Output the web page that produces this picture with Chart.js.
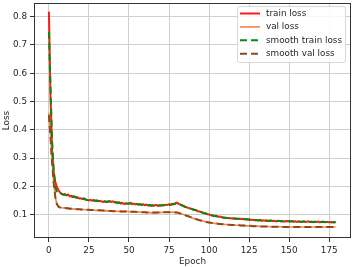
<!DOCTYPE html>
<html>
<head>
<meta charset="utf-8">
<script src="https://cdn.jsdelivr.net/npm/chart.js@4"></script>
<style>
  body { margin: 0; background: #fff; }
  canvas { display: block; }
</style>
</head>
<body>
<canvas id="lossChart" width="353" height="267"></canvas>
<script>
const xTicks = [0, 25, 50, 75, 100, 125, 150, 175];
const yTicks = [0.1, 0.2, 0.3, 0.4, 0.5, 0.6, 0.7, 0.8];

const trainLoss = [
    0.818, 0.520, 0.330, 0.250, 0.215, 0.198, 0.186, 0.178, 0.173, 0.170,
    0.172, 0.168, 0.171, 0.165, 0.166, 0.162, 0.164, 0.159, 0.161, 0.157,
    0.158, 0.155, 0.157, 0.153, 0.151, 0.150, 0.152, 0.149, 0.151, 0.148,
    0.150, 0.147, 0.149, 0.146, 0.145, 0.147, 0.144, 0.146, 0.148, 0.145,
    0.147, 0.143, 0.144, 0.141, 0.143, 0.139, 0.141, 0.137, 0.140, 0.138,
    0.139, 0.141, 0.137, 0.139, 0.136, 0.138, 0.135, 0.137, 0.134, 0.136,
    0.133, 0.135, 0.132, 0.134, 0.131, 0.133, 0.132, 0.134, 0.131, 0.133,
    0.132, 0.134, 0.133, 0.135, 0.134, 0.136, 0.135, 0.138, 0.137, 0.140,
    0.142, 0.138, 0.135, 0.133, 0.130, 0.127, 0.126, 0.123, 0.122, 0.120,
    0.118, 0.116, 0.115, 0.112, 0.111, 0.109, 0.107, 0.105, 0.104, 0.101,
    0.100, 0.098, 0.097, 0.095, 0.096, 0.094, 0.092, 0.093, 0.090, 0.089,
    0.088, 0.089, 0.087, 0.088, 0.086, 0.087, 0.085, 0.086, 0.084, 0.085,
    0.084, 0.085, 0.083, 0.084, 0.082, 0.083, 0.081, 0.082, 0.080, 0.081,
    0.080, 0.079, 0.081, 0.078, 0.080, 0.078, 0.079, 0.077, 0.079, 0.078,
    0.077, 0.078, 0.076, 0.078, 0.077, 0.076, 0.077, 0.075, 0.077, 0.076,
    0.076, 0.075, 0.077, 0.075, 0.076, 0.074, 0.076, 0.075, 0.074, 0.076,
    0.075, 0.074, 0.076, 0.074, 0.075, 0.073, 0.075, 0.074, 0.075, 0.073,
    0.074, 0.075, 0.073, 0.074, 0.074, 0.073, 0.074, 0.073, 0.074, 0.073
];

const valLoss = [
    0.460, 0.380, 0.290, 0.215, 0.160, 0.136, 0.128, 0.125, 0.124, 0.123,
    0.123, 0.122, 0.122, 0.121, 0.121, 0.120, 0.120, 0.119, 0.119, 0.119,
    0.118, 0.118, 0.118, 0.117, 0.117, 0.117, 0.116, 0.116, 0.116, 0.115,
    0.115, 0.115, 0.114, 0.115, 0.114, 0.113, 0.114, 0.113, 0.113, 0.113,
    0.112, 0.113, 0.112, 0.112, 0.111, 0.112, 0.111, 0.111, 0.112, 0.111,
    0.111, 0.110, 0.111, 0.110, 0.110, 0.109, 0.110, 0.109, 0.108, 0.109,
    0.108, 0.107, 0.108, 0.107, 0.106, 0.107, 0.106, 0.107, 0.107, 0.108,
    0.107, 0.108, 0.108, 0.109, 0.108, 0.109, 0.108, 0.109, 0.108, 0.108,
    0.107, 0.106, 0.104, 0.102, 0.100, 0.098, 0.096, 0.094, 0.092, 0.089,
    0.087, 0.085, 0.083, 0.082, 0.080, 0.079, 0.077, 0.076, 0.074, 0.073,
    0.072, 0.071, 0.070, 0.069, 0.068, 0.068, 0.067, 0.067, 0.066, 0.066,
    0.065, 0.065, 0.064, 0.064, 0.063, 0.063, 0.063, 0.062, 0.062, 0.062,
    0.061, 0.061, 0.061, 0.060, 0.060, 0.060, 0.060, 0.059, 0.059, 0.059,
    0.059, 0.059, 0.058, 0.058, 0.058, 0.058, 0.058, 0.058, 0.057, 0.057,
    0.057, 0.057, 0.057, 0.057, 0.057, 0.057, 0.056, 0.056, 0.056, 0.056,
    0.056, 0.056, 0.056, 0.057, 0.056, 0.056, 0.056, 0.056, 0.056, 0.056,
    0.056, 0.056, 0.056, 0.056, 0.056, 0.056, 0.056, 0.056, 0.056, 0.056,
    0.056, 0.056, 0.056, 0.056, 0.056, 0.056, 0.056, 0.056, 0.056, 0.056
];

const smoothTrainLoss = [
    0.747, 0.550, 0.360, 0.255, 0.200, 0.178, 0.176, 0.175, 0.173, 0.171,
    0.170, 0.169, 0.168, 0.166, 0.165, 0.164, 0.163, 0.161, 0.160, 0.158,
    0.157, 0.156, 0.155, 0.153, 0.152, 0.151, 0.151, 0.150, 0.150, 0.149,
    0.149, 0.148, 0.148, 0.147, 0.146, 0.146, 0.145, 0.146, 0.146, 0.145,
    0.145, 0.144, 0.143, 0.142, 0.142, 0.141, 0.140, 0.139, 0.139, 0.139,
    0.139, 0.139, 0.138, 0.138, 0.137, 0.137, 0.136, 0.136, 0.135, 0.135,
    0.134, 0.134, 0.133, 0.133, 0.132, 0.132, 0.132, 0.132, 0.132, 0.132,
    0.132, 0.133, 0.133, 0.134, 0.134, 0.135, 0.135, 0.136, 0.137, 0.138,
    0.139, 0.138, 0.136, 0.133, 0.131, 0.128, 0.126, 0.124, 0.122, 0.120,
    0.118, 0.116, 0.115, 0.113, 0.111, 0.109, 0.107, 0.105, 0.104, 0.102,
    0.100, 0.099, 0.097, 0.096, 0.095, 0.094, 0.093, 0.092, 0.091, 0.090,
    0.089, 0.088, 0.088, 0.087, 0.087, 0.086, 0.086, 0.085, 0.085, 0.085,
    0.084, 0.084, 0.084, 0.083, 0.083, 0.082, 0.082, 0.081, 0.081, 0.081,
    0.080, 0.080, 0.080, 0.079, 0.079, 0.079, 0.078, 0.078, 0.078, 0.078,
    0.077, 0.077, 0.077, 0.077, 0.077, 0.076, 0.076, 0.076, 0.076, 0.076,
    0.076, 0.076, 0.076, 0.075, 0.075, 0.075, 0.075, 0.075, 0.075, 0.075,
    0.075, 0.075, 0.075, 0.074, 0.074, 0.074, 0.074, 0.074, 0.074, 0.074,
    0.074, 0.074, 0.074, 0.074, 0.074, 0.074, 0.073, 0.073, 0.073, 0.073
];

const smoothValLoss = [
    0.452, 0.372, 0.285, 0.212, 0.162, 0.137, 0.128, 0.125, 0.124, 0.123,
    0.123, 0.122, 0.122, 0.121, 0.121, 0.120, 0.120, 0.119, 0.119, 0.119,
    0.118, 0.118, 0.118, 0.117, 0.117, 0.117, 0.116, 0.116, 0.116, 0.115,
    0.115, 0.115, 0.115, 0.114, 0.114, 0.114, 0.113, 0.113, 0.113, 0.113,
    0.112, 0.112, 0.112, 0.112, 0.112, 0.111, 0.111, 0.111, 0.111, 0.111,
    0.111, 0.110, 0.110, 0.110, 0.110, 0.109, 0.109, 0.109, 0.108, 0.108,
    0.108, 0.107, 0.107, 0.107, 0.107, 0.107, 0.107, 0.107, 0.107, 0.107,
    0.107, 0.108, 0.108, 0.108, 0.108, 0.108, 0.108, 0.108, 0.108, 0.107,
    0.107, 0.106, 0.104, 0.102, 0.100, 0.098, 0.096, 0.094, 0.092, 0.090,
    0.088, 0.086, 0.084, 0.082, 0.080, 0.079, 0.077, 0.076, 0.074, 0.073,
    0.072, 0.071, 0.070, 0.069, 0.068, 0.068, 0.067, 0.067, 0.066, 0.066,
    0.065, 0.065, 0.064, 0.064, 0.063, 0.063, 0.063, 0.062, 0.062, 0.062,
    0.061, 0.061, 0.061, 0.060, 0.060, 0.060, 0.060, 0.059, 0.059, 0.059,
    0.059, 0.059, 0.058, 0.058, 0.058, 0.058, 0.058, 0.058, 0.057, 0.057,
    0.057, 0.057, 0.057, 0.057, 0.057, 0.057, 0.056, 0.056, 0.056, 0.056,
    0.056, 0.056, 0.056, 0.056, 0.056, 0.056, 0.056, 0.056, 0.056, 0.056,
    0.056, 0.056, 0.056, 0.056, 0.056, 0.056, 0.056, 0.056, 0.056, 0.056,
    0.056, 0.056, 0.056, 0.056, 0.056, 0.056, 0.056, 0.056, 0.056, 0.056
];

const epochs = trainLoss.map((_, i) => i);

const fontFamily = "'DejaVu Sans', sans-serif";
const fontSize = 8.8;
const textColor = '#262626';
const gridColor = '#cfcfcf';

// matplotlib-style box around the plot + legend in the upper right
const frameAndLegend = {
    id: 'frameAndLegend',
    afterDatasetsDraw(chart) {
        const { ctx, chartArea } = chart;
        ctx.save();
        ctx.strokeStyle = '#333';
        ctx.lineWidth = 1;
        ctx.strokeRect(chartArea.left + 0.5, chartArea.top + 0.5,
            chartArea.right - chartArea.left - 1, chartArea.bottom - chartArea.top - 1);

        const boxX = 237, boxY = 6, boxW = 108, boxH = 56;
        ctx.fillStyle = 'rgba(255,255,255,0.85)';
        ctx.strokeStyle = '#d8d8d8';
        ctx.beginPath();
        ctx.roundRect(boxX + 0.5, boxY + 0.5, boxW, boxH, 2);
        ctx.fill();
        ctx.stroke();

        ctx.font = fontSize + 'px ' + fontFamily;
        ctx.textBaseline = 'middle';
        chart.data.datasets.forEach((ds, i) => {
            const y = boxY + 7.5 + i * 13.4;
            ctx.strokeStyle = ds.borderColor;
            ctx.lineWidth = ds.borderWidth;
            ctx.setLineDash(ds.borderDash || []);
            ctx.beginPath();
            ctx.moveTo(boxX + 3, y);
            ctx.lineTo(boxX + 23, y);
            ctx.stroke();
            ctx.setLineDash([]);
            ctx.fillStyle = textColor;
            ctx.fillText(ds.label, boxX + 29, y);
        });
        ctx.restore();
    }
};

function noPadding(scale) {
    scale.paddingLeft = 0;
    scale.paddingRight = 0;
    scale.paddingTop = 0;
    scale.paddingBottom = 0;
}

new Chart(document.getElementById('lossChart').getContext('2d'), {
    type: 'line',
    data: {
        labels: epochs,
        datasets: [
            { label: 'train loss', data: trainLoss, borderColor: '#ff1a1a', borderWidth: 2, order: 4 },
            { label: 'val loss', data: valLoss, borderColor: '#f4844c', borderWidth: 1.6, order: 3 },
            { label: 'smooth train loss', data: smoothTrainLoss, borderColor: '#0a8a0a', borderWidth: 2, borderDash: [7, 4], order: 2 },
            { label: 'smooth val loss', data: smoothValLoss, borderColor: '#8b4a1c', borderWidth: 2, borderDash: [7, 4], order: 1 }
        ]
    },
    options: {
        responsive: false,
        animation: false,
        elements: { point: { radius: 0 }, line: { tension: 0 } },
        layout: { autoPadding: false, padding: { top: 3, right: 2, left: 0, bottom: 0 } },
        plugins: { legend: { display: false }, tooltip: { enabled: false } },
        scales: {
            x: {
                type: 'linear',
                min: -9.3,
                max: 188.6,
                afterBuildTicks: scale => { scale.ticks = xTicks.map(v => ({ value: v })); },
                afterFit: scale => { scale.height = 29; noPadding(scale); },
                grid: { color: gridColor, tickColor: '#333', tickLength: 4 },
                border: { display: false },
                ticks: { color: textColor, font: { family: fontFamily, size: fontSize }, padding: 3, maxRotation: 0 },
                title: { display: true, text: 'Epoch', color: textColor, font: { family: fontFamily, size: fontSize }, padding: 0 }
            },
            y: {
                min: 0.0171,
                max: 0.8485,
                afterBuildTicks: scale => { scale.ticks = yTicks.map(v => ({ value: v })); },
                afterFit: scale => { scale.width = 34; noPadding(scale); },
                grid: { color: gridColor, tickColor: '#333', tickLength: 4 },
                border: { display: false },
                ticks: { color: textColor, font: { family: fontFamily, size: fontSize }, padding: 3,
                    callback: v => v.toFixed(1) },
                title: { display: true, text: 'Loss', color: textColor, font: { family: fontFamily, size: fontSize }, padding: 1 }
            }
        }
    },
    plugins: [frameAndLegend]
});
</script>
</body>
</html>
